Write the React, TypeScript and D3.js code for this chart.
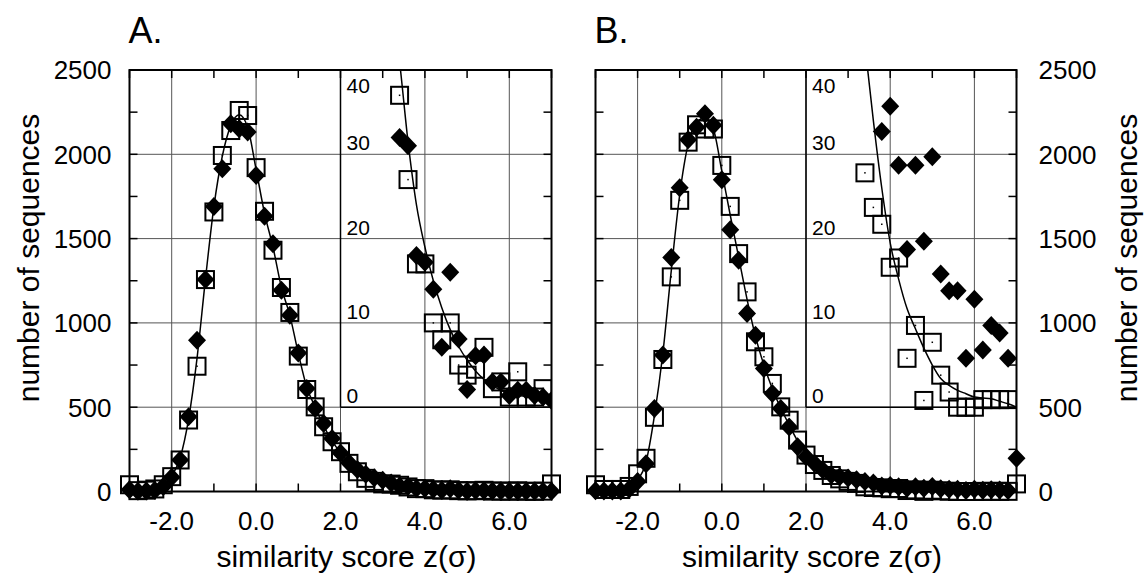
import React from 'react';
import * as d3 from 'd3';

// bin centres (z score)
const bins = [
  -3.0, -2.8, -2.6, -2.4, -2.2, -2.0, -1.8, -1.6, -1.4, -1.2,
  -1.0, -0.8, -0.6, -0.4, -0.2, 0.0, 0.2, 0.4, 0.6, 0.8,
  1.0, 1.2, 1.4, 1.6, 1.8, 2.0, 2.2, 2.4, 2.6, 2.8,
  3.0, 3.2, 3.4, 3.6, 3.8, 4.0, 4.2, 4.4, 4.6, 4.8,
  5.0, 5.2, 5.4, 5.6, 5.8, 6.0, 6.2, 6.4, 6.6, 6.8, 7.0,
];

const aSquares = [
  40, 5, 8, 15, 40, 88, 187, 424, 743, 1257,
  1658, 1993, 2141, 2260, 2230, 1921, 1662, 1431, 1210, 1062,
  803, 605, 502, 384, 295, 236, 167, 117, 78, 60,
  45, 44, 37, 27, 17, 17, 10, 8, 10, 5,
  3.8, 4.5, 7.1, 2.2, 3, 1.2, 4.2, 1.2, 1.2, 2.2, 45,
];
const aDiamonds = [
  10, 2, 3, 8, 30, 85, 187, 443, 897, 1257,
  1691, 1915, 2181, 2152, 2132, 1875, 1632, 1470, 1194, 1046,
  822, 611, 493, 404, 314, 228, 170, 130, 102, 81,
  67, 50, 32, 31, 18, 17.2, 14, 7.1, 16, 8.1,
  2.1, 6.1, 6.2, 3, 3, 1.4, 2, 2, 1.4, 1.2, 0.8,
];
const aFit = [
  0, 2, 5, 12, 35, 90, 200, 430, 790, 1260,
  1690, 1990, 2170, 2235, 2160, 1910, 1650, 1450, 1210, 1045,
  820, 620, 500, 390, 300, 230, 172, 128, 96, 74,
  60, 49, 41, 31.5, 24, 19, 15, 11.8, 9.2, 7.2,
  5.6, 4.3, 3.3, 2.6, 2, 1.6, 1.4, 1.3, 1.2, 1.2, 1.2,
];

const bSquares = [
  40, 12, 12, 12, 30, 105, 197, 440, 783, 1273,
  1727, 2072, 2175, 2150, 2150, 1934, 1691, 1411, 1184, 888,
  799, 641, 502, 423, 305, 216, 160, 125, 95, 75,
  60, 48, 27.8, 23.7, 21.7, 16.6, 17.7, 5.8, 9.7, 0.8,
  7.7, 3.8, 1.8, 0, 0, 0, 0.9, 0.9, 0.9, 0.9, 45,
];
const bDiamonds = [
  5, 3, 3, 3, 15, 60, 165, 493, 809, 1388,
  1802, 2086, 2161, 2241, 2172, 1849, 1553, 1371, 1056, 927,
  730, 581, 493, 383, 265, 206, 167, 127, 98, 88,
  80, 70, 60, 50, 32.7, 35.7, 28.7, 18.7, 28.7, 19.7,
  29.7, 15.8, 13.8, 13.8, 5.8, 12.8, 6.8, 9.7, 8.8, 5.8, 197,
];
const bFit = [
  0, 1, 3, 8, 22, 65, 175, 450, 820, 1310,
  1760, 2060, 2190, 2215, 2150, 1900, 1640, 1390, 1140, 920,
  750, 610, 495, 395, 300, 225, 170, 128, 98, 76,
  62, 52, 43, 34, 26, 19.5, 15.2, 11.7, 9.3, 7.0,
  5.0, 3.4, 2.6, 2.0, 1.6, 1.2, 1.1, 1.0, 0.7, 0.4, 0,
];

const xTicks = [-2, 0, 2, 4, 6];
const xTickLabels = ['-2.0', '0.0', '2.0', '4.0', '6.0'];
const yTicks = [0, 500, 1000, 1500, 2000, 2500];
const insetTicks = [0, 10, 20, 30, 40];

const FONT = '"Liberation Sans", Arial, Helvetica, sans-serif';
const TOP = 70;
const BOTTOM = 491.5;

type PanelProps = {
  id: string;
  left: number;
  right: number;
  letter: string;
  labelSide: 'left' | 'right';
  squares: number[];
  diamonds: number[];
  fit: number[];
};

const Panel = ({ id, left, right, letter, labelSide, squares, diamonds, fit }: PanelProps) => {
  const x = d3.scaleLinear().domain([-3, 7]).range([left, right]);
  const y = d3.scaleLinear().domain([0, 2500]).range([BOTTOM, TOP]);
  // inset: 0..40 sits on top of the main panel between 500 and 2500
  const yi = d3.scaleLinear().domain([0, 40]).range([y(500), y(2500)]);

  const line = d3.line<number>().x((_, i) => x(bins[i])).y(d => y(d)).curve(d3.curveMonotoneX);
  const lineIn = d3.line<number>().x((_, i) => x(bins[i])).y(d => yi(d)).curve(d3.curveMonotoneX);

  const minorY = d3.range(0, 2501, 250);
  const minorX = d3.range(-3, 7.01, 1);
  const tl = 8;

  const square = (cx: number, cy: number, k: number) => (
    <g key={k}>
      <rect x={cx - 8.5} y={cy - 8.5} width={17} height={17} fill="none" stroke="#000" strokeWidth={2} />
      <rect x={cx - 0.75} y={cy - 0.75} width={1.5} height={1.5} fill="#000" />
    </g>
  );
  const diamond = (cx: number, cy: number, k: number) => (
    <path key={k} d={`M${cx},${cy - 9.5}L${cx + 9},${cy}L${cx},${cy + 9.5}L${cx - 9},${cy}Z`} fill="#000" />
  );

  const midX = (left + right) / 2;
  const insetX = x(2);
  const inInset = (i: number, v: number) => bins[i] >= 2 && v <= 40;

  return (
    <g fontFamily={FONT}>
      <defs>
        <clipPath id={`inset-${id}`}>
          <rect x={insetX} y={y(2500)} width={x(7) - insetX} height={y(500) - y(2500) + 14} />
        </clipPath>
      </defs>

      {/* grid */}
      {xTicks.map(t => (
        <line key={`gx${t}`} x1={x(t)} x2={x(t)} y1={TOP} y2={BOTTOM} stroke="#555" strokeWidth={1} />
      ))}
      {yTicks.slice(1, -1).map(t => (
        <line key={`gy${t}`} x1={left} x2={right} y1={y(t)} y2={y(t)} stroke="#555" strokeWidth={1} />
      ))}

      {/* minor ticks on all sides */}
      {minorY.map(t => (
        <g key={`ty${t}`}>
          <line x1={left} x2={left + tl} y1={y(t)} y2={y(t)} stroke="#000" strokeWidth={1.5} />
          <line x1={right} x2={right - tl} y1={y(t)} y2={y(t)} stroke="#000" strokeWidth={1.5} />
        </g>
      ))}
      {minorX.map(t => (
        <g key={`tx${t}`}>
          <line x1={x(t)} x2={x(t)} y1={BOTTOM} y2={BOTTOM - tl} stroke="#000" strokeWidth={1.5} />
          <line x1={x(t)} x2={x(t)} y1={TOP} y2={TOP + tl} stroke="#000" strokeWidth={1.5} />
        </g>
      ))}

      {/* inset frame */}
      <line x1={insetX} x2={insetX} y1={y(2500)} y2={y(500)} stroke="#000" strokeWidth={1.5} />
      <line x1={insetX} x2={x(7)} y1={y(500)} y2={y(500)} stroke="#000" strokeWidth={1.5} />
      {insetTicks.map(t => (
        <text key={`it${t}`} x={insetX + 6} y={Math.max(yi(t) - 4, TOP + 23)} fontSize={21}>
          {t}
        </text>
      ))}

      {/* main data */}
      <path d={line(fit) || ''} fill="none" stroke="#000" strokeWidth={1.5} />
      {squares.map((v, i) => square(x(bins[i]), y(v), i))}
      {diamonds.map((v, i) => diamond(x(bins[i]), y(v), i))}

      {/* inset data */}
      <g clipPath={`url(#inset-${id})`}>
        <path d={lineIn(fit.map(v => Math.min(v, 60))) || ''} fill="none" stroke="#000" strokeWidth={1.5}
          clipPath={undefined} />
        {squares.map((v, i) => (inInset(i, v) ? square(x(bins[i]), yi(v), i) : null))}
        {diamonds.map((v, i) => (inInset(i, v) ? diamond(x(bins[i]), yi(v), i) : null))}
      </g>

      {/* frame */}
      <rect x={left} y={TOP} width={right - left} height={BOTTOM - TOP} fill="none" stroke="#000" strokeWidth={2} />

      {/* axis labels */}
      {xTicks.map((t, i) => (
        <text key={`xl${t}`} x={x(t)} y={530} fontSize={26} textAnchor="middle">
          {xTickLabels[i]}
        </text>
      ))}
      {yTicks.map(t => (
        <text
          key={`yl${t}`}
          x={labelSide === 'left' ? left - 18 : right + 22}
          y={y(t)}
          dy="0.36em"
          fontSize={26}
          textAnchor={labelSide === 'left' ? 'end' : 'start'}
        >
          {t}
        </text>
      ))}
      <text x={midX + 6} y={567} fontSize={30} textAnchor="middle">
        similarity score z(σ)
      </text>
      <text
        transform={`translate(${labelSide === 'left' ? 39 : 1137},258) rotate(-90)`}
        fontSize={30}
        textAnchor="middle"
      >
        number of sequences
      </text>
      <text x={left - 1} y={43} fontSize={36}>
        {letter}
      </text>
    </g>
  );
};

export default function App() {
  return (
    <svg
      width={1144}
      height={580}
      style={{ position: 'absolute', left: 0, top: 0, background: '#fff' }}
    >
      <rect width={1144} height={580} fill="#fff" />
      <Panel id="a" left={129.5} right={551.5} letter="A." labelSide="left"
        squares={aSquares} diamonds={aDiamonds} fit={aFit} />
      <Panel id="b" left={595.5} right={1016.5} letter="B." labelSide="right"
        squares={bSquares} diamonds={bDiamonds} fit={bFit} />
    </svg>
  );
}
